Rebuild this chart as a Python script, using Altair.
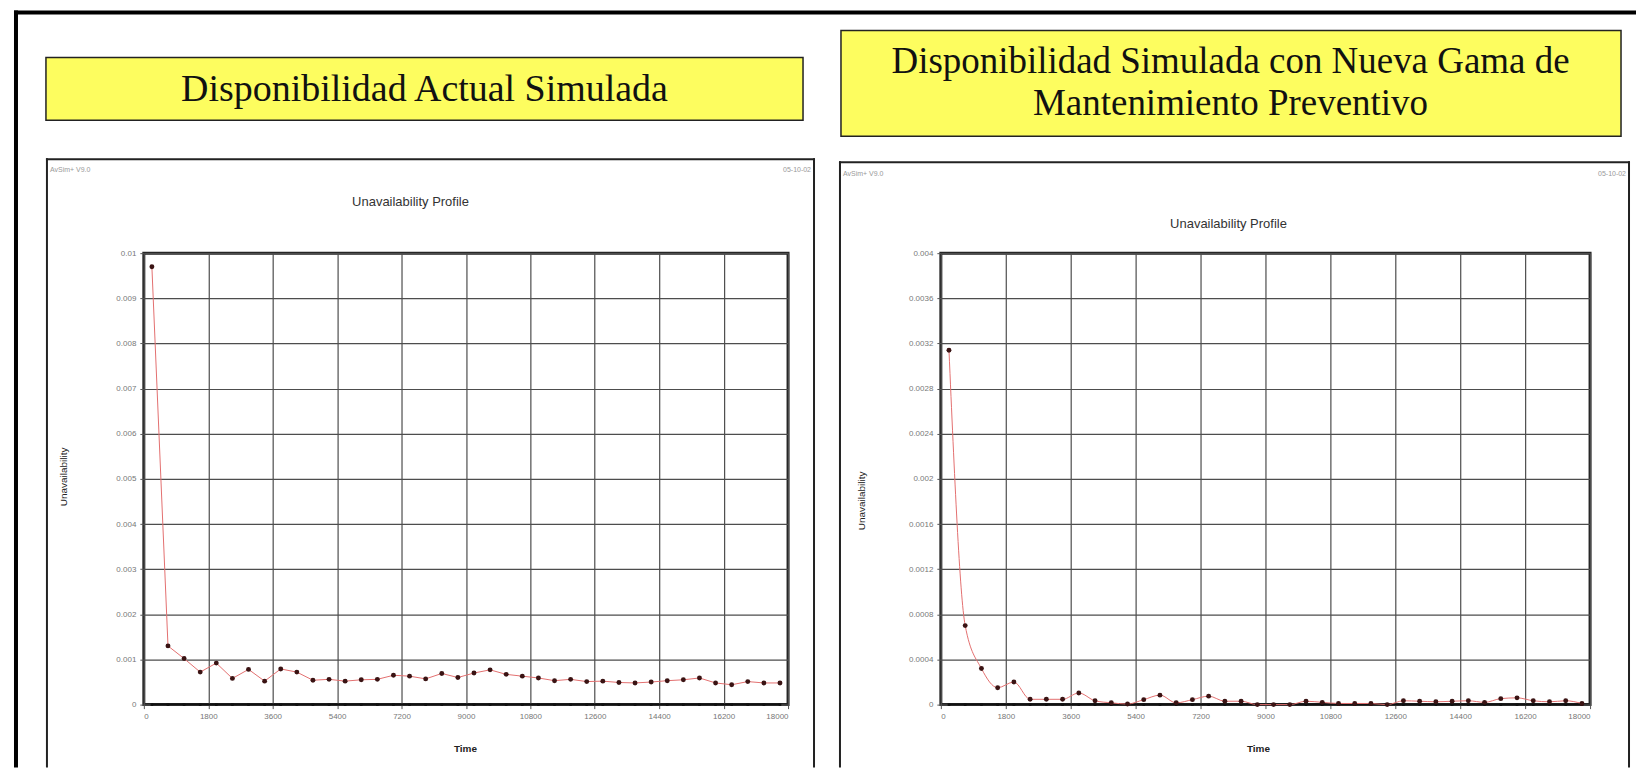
import altair as alt
import pandas as pd

# ---------------- data ----------------
times = [225, 675, 1125, 1575, 2025, 2475, 2925, 3375, 3825, 4275,
         4725, 5175, 5625, 6075, 6525, 6975, 7425, 7875, 8325, 8775,
         9225, 9675, 10125, 10575, 11025, 11475, 11925, 12375, 12825, 13275,
         13725, 14175, 14625, 15075, 15525, 15975, 16425, 16875, 17325, 17775]

unavail_actual = [0.0097, 0.0013, 0.00102, 0.00072, 0.00092, 0.00058, 0.00078, 0.00052, 0.00079, 0.00072,
                  0.00054, 0.00056, 0.00052, 0.00055, 0.00056, 0.00065, 0.00063, 0.00057, 0.00069, 0.00060,
                  0.00070, 0.00077, 0.00067, 0.00063, 0.00059, 0.00053, 0.00056, 0.00051, 0.00052, 0.00049,
                  0.00048, 0.00050, 0.00053, 0.00055, 0.00059, 0.00048, 0.00044, 0.00051, 0.00048, 0.00048]

unavail_new = [0.00314, 0.00070, 0.00032, 0.00015, 0.00020, 0.000047, 0.000047, 0.000047, 0.000103, 0.000034,
               0.000016, 0.000005, 0.000044, 0.000084, 0.000016, 0.000044, 0.000075, 0.000030, 0.000030, 0.0,
               0.0, 0.0, 0.000030, 0.000020, 0.000010, 0.000010, 0.000010, 0.0, 0.000034, 0.000030,
               0.000025, 0.000030, 0.000034, 0.000020, 0.000053, 0.000060, 0.000034, 0.000025, 0.000034, 0.000010]

baseline = [0.0] * len(times)

x_ticks = [0, 1800, 3600, 5400, 7200, 9000, 10800, 12600, 14400, 16200, 18000]
y_ticks_actual = [0, 0.001, 0.002, 0.003, 0.004, 0.005, 0.006, 0.007, 0.008, 0.009, 0.01]
y_ticks_new = [0, 0.0004, 0.0008, 0.0012, 0.0016, 0.002, 0.0024, 0.0028, 0.0032, 0.0036, 0.004]

title_left = ["Disponibilidad Actual Simulada"]
title_right = ["Disponibilidad Simulada con Nueva Gama de", "Mantenimiento Preventivo"]
chart_title = "Unavailability Profile"
x_title = "Time"
y_title = "Unavailability"
software = "AvSim+ V9.0"
date_label = "05-10-02"

# ---------------- helpers ----------------
def one(text=""):
    return pd.DataFrame({"text": [text]})


def box(x1, x2, y1, y2, **kw):
    return alt.Chart(one()).mark_rect(**kw).encode(
        x=alt.value(x1), x2=alt.value(x2), y=alt.value(y1), y2=alt.value(y2))


def label(text, x, y, **kw):
    return alt.Chart(one(text)).mark_text(**kw).encode(
        x=alt.value(x), y=alt.value(y), text="text:N")


def open_panel(x1, x2, y1, y2, w=2, color="#222"):
    # left, top and right edges of a panel whose bottom runs off the page
    return [
        box(x1 - w / 2, x1 + w / 2, y1 - w / 2, y2, color=color),
        box(x1 - w / 2, x2 + w / 2, y1 - w / 2, y1 + w / 2, color=color),
        box(x2 - w / 2, x2 + w / 2, y1 - w / 2, y2, color=color),
    ]


def plot_layers(values, ymax, yticks, interp):
    df = pd.DataFrame({"t": times, "u": values, "zero": baseline})
    base = alt.Chart(df)
    xax = alt.Axis(values=x_ticks, format="d", title=None, grid=True,
                   gridColor="#4d4d4d", gridWidth=1.2, domain=False,
                   tickColor="#555", tickSize=4, labelFontSize=8,
                   labelColor="#777", labelPadding=4)
    yax = alt.Axis(values=yticks, format="~g", title=None, grid=True,
                   gridColor="#4d4d4d", gridWidth=1.2, domain=False,
                   tickColor="#555", tickSize=4, labelFontSize=8,
                   labelColor="#777", labelPadding=4)
    xs = alt.Scale(domain=[0, 18000], nice=False, zero=False)
    ys = alt.Scale(domain=[0, ymax], nice=False)

    def enc(field):
        return dict(x=alt.X("t:Q", scale=xs, axis=xax),
                    y=alt.Y(f"{field}:Q", scale=ys, axis=yax))

    zero_line = base.mark_line(color="#111", strokeWidth=2).encode(**enc("zero"))
    zero_pts = base.mark_square(color="#111", size=7, opacity=1).encode(**enc("zero"))
    line = base.mark_line(color="#e36f6f", strokeWidth=1, interpolate=interp).encode(**enc("u"))
    pts = base.mark_circle(color="#3a1313", size=24, opacity=1).encode(**enc("u"))
    return [zero_line, zero_pts, line, pts]


# ---------------- left panel (origin = plot top-left, full (142,251)) ----------------
left_layers = [
    box(-134, 1494, -243, 515, opacity=0),                       # page extent pin
    box(-130, 1494, -243, -239, color="#000"),                   # frame top
    box(-130, -126, -243, 515, color="#000"),                    # frame left
    box(-98, 660, -196, -133, fill="#fdfd5f", stroke="#222", strokeWidth=1.5),
    label(title_left[0], 281, -163, font="Liberation Serif", fontSize=38,
          color="#111", align="center", baseline="middle"),
] + open_panel(-97, 671, -94, 515) + [
    label(software, -94, -83, fontSize=7, color="#999", align="left", baseline="middle"),
    label(date_label, 668, -83, fontSize=7, color="#999", align="right", baseline="middle"),
    label(chart_title, 267, -51, fontSize=13, color="#333", align="center", baseline="middle"),
    label(y_title, -80, 224, fontSize=10, color="#222", angle=270,
          align="center", baseline="middle"),
    label(x_title, 322, 496, fontSize=10, fontWeight="bold", color="#222",
          align="center", baseline="middle"),
] + plot_layers(unavail_actual, 0.01, y_ticks_actual, "linear")

left = alt.layer(*left_layers).properties(width=645, height=452)

# ---------------- right panel (origin = plot top-left, full (940,251)) ----------------
right_layers = [
    box(-100, 681, -223, -117, fill="#fdfd5f", stroke="#222", strokeWidth=1.5),
    label(title_right[0], 290, -191, font="Liberation Serif", fontSize=37,
          color="#111", align="center", baseline="middle"),
    label(title_right[1], 290, -149, font="Liberation Serif", fontSize=37,
          color="#111", align="center", baseline="middle"),
] + open_panel(-101, 689, -91, 515) + [
    label(software, -98, -79, fontSize=7, color="#999", align="left", baseline="middle"),
    label(date_label, 686, -79, fontSize=7, color="#999", align="right", baseline="middle"),
    label(chart_title, 288, -29, fontSize=13, color="#333", align="center", baseline="middle"),
    label(y_title, -79, 248, fontSize=10, color="#222", angle=270,
          align="center", baseline="middle"),
    label(x_title, 318, 496, fontSize=10, fontWeight="bold", color="#222",
          align="center", baseline="middle"),
] + plot_layers(unavail_new, 0.004, y_ticks_new, "monotone")

right = alt.layer(*right_layers).properties(width=650, height=452)

chart = (
    alt.hconcat(left, right, spacing=153, bounds="flush")
    .properties(padding=0, background="#ffffff")
    .configure(font="Liberation Sans")
    .configure_view(stroke="#262626", strokeWidth=3)
)

chart.save("out.html", embed_options={"renderer": "svg", "actions": False})
